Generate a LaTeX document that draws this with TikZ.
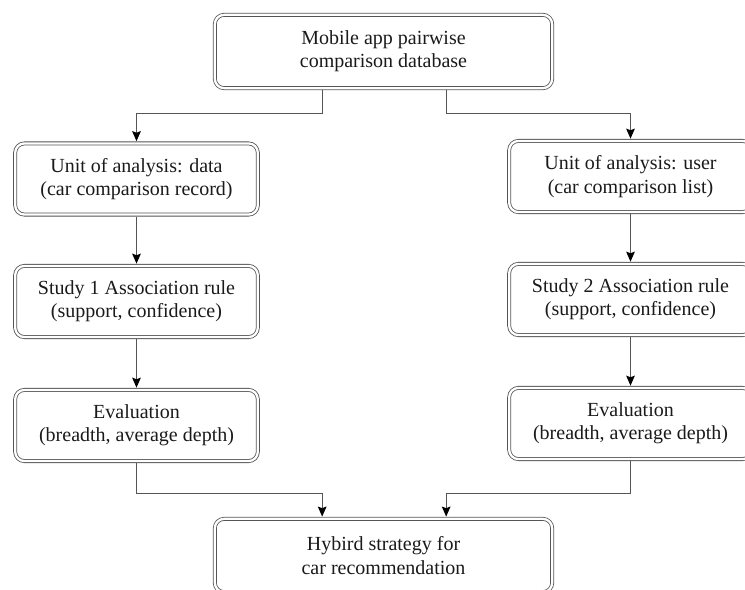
\documentclass[tikz,border=0pt]{standalone}
\usepackage{fontspec}
\setmainfont{Liberation Serif}
\usetikzlibrary{arrows.meta}
\definecolor{edgegray}{HTML}{555555}
\definecolor{inkblack}{HTML}{1A1A1A}

\begin{document}
\begin{tikzpicture}[x=0.75pt, y=-0.75pt,
  stepbox/.style={draw=edgegray, double, double distance=1.7pt, line width=0.6pt,
    rounded corners=7pt, minimum width=182pt, minimum height=53.4pt, inner sep=0pt,
    align=center, text=inkblack, font=\fontsize{15}{17.5}\selectfont},
  widebox/.style={stepbox, minimum width=253pt, minimum height=55pt},
  link/.style={draw=edgegray, line width=0.75pt, shorten >=1.4pt, shorten <=1.4pt,
    -{Stealth[length=7.5pt, width=6.5pt, inset=1.2pt, color=black]}}]
% Page size of the reference (pixel units)
\useasboundingbox (0,0) rectangle (745,589);

% Source database
\node[widebox] (db) at (383.5, 51.5) {Mobile app pairwise\\comparison database};

% Left branch: data records
\node[stepbox] (unitD) at (136.5, 179) {Unit of analysis: data\\(car comparison record)};
\node[stepbox] (studyA) at (136.5, 301.5) {Study 1 Association rule\\(support, confidence)};
\node[stepbox] (evalA) at (136.5, 425.5) {Evaluation\\(breadth, average depth)};

% Right branch: user lists
\node[stepbox] (unitU) at (630.5, 176.5) {Unit of analysis: user\\(car comparison list)};
\node[stepbox] (studyB) at (630.5, 299.5) {Study 2 Association rule\\(support, confidence)};
\node[stepbox] (evalB) at (630.5, 423.5) {Evaluation\\(breadth, average depth)};

% Combined result
\node[widebox] (hybrid) at (383.5, 555.5) {Hybird strategy for\\car recommendation};

% Connectors
\draw[link] ([xshift=-46pt]db.south) -- ++(0,25) -| (unitD.north);
\draw[link] ([xshift=47pt]db.south) -- ++(0,25) -| (unitU.north);
\draw[link] (unitD) -- (studyA);
\draw[link] (studyA) -- (evalA);
\draw[link] (unitU) -- (studyB);
\draw[link] (studyB) -- (evalB);
\draw[link] (evalA.south) -- ++(0,32) -| ([xshift=-46pt]hybrid.north);
\draw[link] (evalB.south) -- ++(0,34) -| ([xshift=47pt]hybrid.north);
\end{tikzpicture}
\end{document}
